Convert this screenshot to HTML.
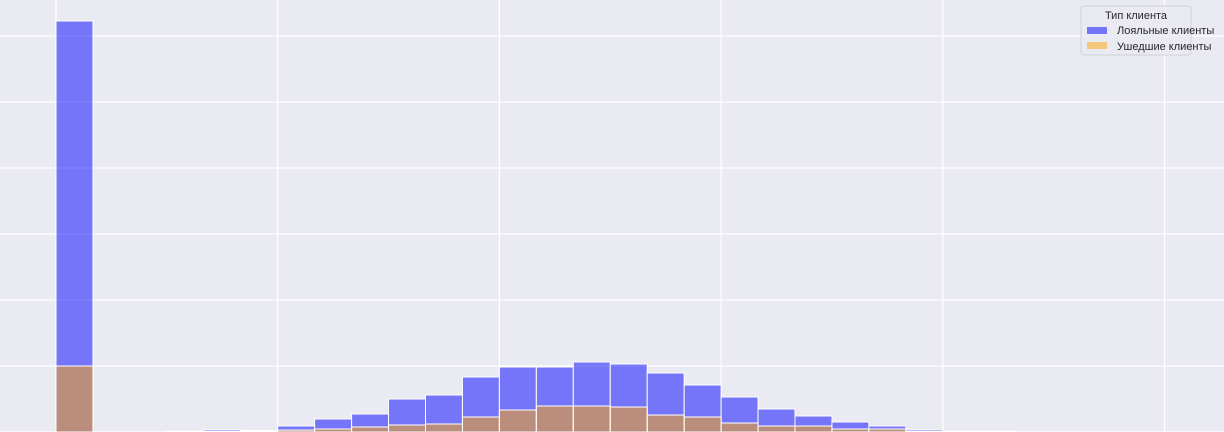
<!DOCTYPE html>
<html><head><meta charset="utf-8"><style>
html,body{margin:0;padding:0;background:#eaeaf2;}
svg{display:block;font-family:"Liberation Sans","DejaVu Sans",sans-serif;}
</style></head><body>
<svg id="chart" width="1224" height="432" viewBox="0 0 1224 432">
<rect x="0" y="0" width="1224" height="432" fill="#eaeaf2"/>
<g id="grid"></g>
<g id="bars"></g>
<g id="legend">
<rect x="1081" y="6" width="110" height="49" rx="3" fill="#eaeaf2" fill-opacity="0.8" stroke="#d0d0d8"/>
<text x="1136" y="19" font-size="11" fill="#262626" text-anchor="middle">Тип клиента</text>
<rect x="1087" y="27" width="20" height="7" fill="rgb(0,0,255)" fill-opacity="0.5"/>
<text x="1117" y="34" font-size="11" fill="#262626">Лояльные клиенты</text>
<rect x="1087" y="42" width="20" height="7" fill="rgb(255,165,0)" fill-opacity="0.5"/>
<text x="1117" y="50" font-size="11" fill="#262626">Ушедшие клиенты</text>
</g>
</svg>
<script>
const binStarts = [0,1,2,3,4,5,6,7,8,9,10,11,12,13,14,15,16,17,18,19,20,21,22,23,24,25];
const loyalCounts = [411,0,0,1,2,1.5,6,13,18,33,37,55,65,65,70,68,59,47,35,23,16,10,6,2,1,1];
const churnedCounts = [66,0,0,0,0.5,1,2,3,5,7,8,15,22,26,26,25,17,15,9,6,6,3,3,0.5,0,0];
const xTicks = [0,6,12,18,24,30];
const yTicks = [0,66,132,198,264,330,396];

const NS = "http://www.w3.org/2000/svg";
const x0 = 56, binW = 36.95, yBase = 432, yPx = 1;
function xScale(b){ return x0 + b*binW; }
function yScale(v){ return yBase - v*yPx; }

const grid = document.getElementById('grid');
xTicks.forEach(t=>{
  const l = document.createElementNS(NS,'line');
  const x = xScale(t);
  l.setAttribute('x1',x); l.setAttribute('x2',x); l.setAttribute('y1',0); l.setAttribute('y2',432);
  l.setAttribute('stroke','#fff'); l.setAttribute('stroke-width','1.2');
  
  
  grid.appendChild(l);
});
yTicks.forEach(t=>{
  const l = document.createElementNS(NS,'line');
  const y = yScale(t);
  l.setAttribute('x1',0); l.setAttribute('x2',1224); l.setAttribute('y1',y); l.setAttribute('y2',y);
  l.setAttribute('stroke','#fff'); l.setAttribute('stroke-width','1.2');
  
  
  grid.appendChild(l);
});

const bars = document.getElementById('bars');
function drawSeries(vals, color, name){
  binStarts.forEach((b,i)=>{
    const v = vals[i];
    if (v <= 0) return;
    const r = document.createElementNS(NS,'rect');
    r.setAttribute('x', xScale(b));
    r.setAttribute('y', yScale(v));
    r.setAttribute('width', binW);
    r.setAttribute('height', yBase - yScale(v));
    r.setAttribute('fill', color);
    r.setAttribute('fill-opacity', '0.5');
    r.setAttribute('stroke', '#fff');
    r.setAttribute('stroke-width', '1');
    
    
    bars.appendChild(r);
  });
}
drawSeries(loyalCounts, 'rgb(0,0,255)', 'bar-loyal');
drawSeries(churnedCounts, 'rgb(255,165,0)', 'bar-churned');
</script>
</body></html>
